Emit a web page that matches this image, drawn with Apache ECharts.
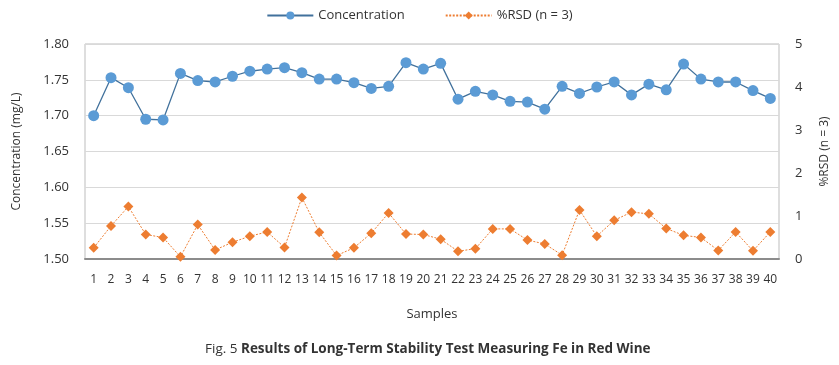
<!DOCTYPE html>
<html><head><meta charset="utf-8">
<script src="https://cdn.jsdelivr.net/npm/echarts@6/dist/echarts.min.js"></script>
<style>html,body{margin:0;padding:0;background:#fff}#c{width:839px;height:365px}</style>
</head><body><div id="c"></div>
<script>
const samples = Array.from({length:40},(_,i)=>String(i+1));
const concentration = [1.700,1.753,1.739,1.695,1.694,1.759,1.749,1.747,1.755,1.762,1.765,1.767,1.760,1.751,1.751,1.746,1.738,1.741,1.774,1.765,1.773,1.723,1.734,1.729,1.720,1.719,1.709,1.741,1.731,1.740,1.747,1.729,1.744,1.736,1.772,1.751,1.747,1.747,1.735,1.724];
const rsd = [0.26,0.77,1.22,0.57,0.50,0.05,0.80,0.21,0.39,0.53,0.63,0.27,1.43,0.62,0.08,0.26,0.60,1.07,0.58,0.57,0.46,0.18,0.24,0.70,0.70,0.44,0.35,0.09,1.14,0.53,0.90,1.09,1.05,0.71,0.55,0.50,0.20,0.63,0.19,0.63];
const FONT = '"Open Sans",sans-serif';
const chart = echarts.init(document.getElementById('c'));
chart.setOption({
  animation:false,
  textStyle:{fontFamily:FONT,color:'#333'},
  legend:{top:4,left:'center',itemWidth:46,itemHeight:10,itemGap:40,
    textStyle:{fontFamily:FONT,fontSize:13,color:'#333'},
    data:['Concentration','%RSD (n = 3)']},
  title:{text:'{a|Fig. 5 }{b|Results of Long-Term Stability Test Measuring Fe in Red Wine}',
    left:200,top:337,
    textStyle:{fontWeight:'normal',rich:{a:{fontFamily:FONT,fontSize:13.5,fontWeight:'normal',color:'#333'},b:{fontFamily:FONT,fontSize:13.5,fontWeight:'bold',color:'#333'}}}},
  grid:{left:85,right:58,top:44,bottom:106,show:true,borderColor:'#bdbdbd',borderWidth:1},
  xAxis:{type:'category',data:samples,boundaryGap:true,
    name:'Samples',nameLocation:'middle',nameGap:49,nameTextStyle:{fontFamily:FONT,fontSize:13,color:'#333'},
    axisLine:{lineStyle:{color:'#8c8c8c',width:2}},axisTick:{show:false},
    axisLabel:{interval:0,fontFamily:FONT,fontSize:12,color:'#333',margin:15}},
  yAxis:[
    {type:'value',min:1.5,max:1.8,interval:0.05,
     name:'Concentration (mg/L)',nameLocation:'middle',nameGap:62,nameTextStyle:{fontFamily:FONT,fontSize:12,color:'#333'},
     axisLine:{show:false},axisTick:{show:false},
     axisLabel:{formatter:v=>v.toFixed(2),fontFamily:FONT,fontSize:13,color:'#333',margin:16},
     splitLine:{lineStyle:{color:'#d9d9d9',width:1}}},
    {type:'value',min:0,max:5,interval:1,
     name:'%RSD (n = 3)',nameLocation:'middle',nameGap:40,nameRotate:90,nameTextStyle:{fontFamily:FONT,fontSize:12,color:'#333'},
     axisLine:{show:false},axisTick:{show:false},
     axisLabel:{fontFamily:FONT,fontSize:13,color:'#333',margin:16},
     splitLine:{show:false}}
  ],
  series:[
    {name:'Concentration',type:'line',yAxisIndex:0,data:concentration,
     symbol:'circle',symbolSize:11,
     lineStyle:{color:'#41719C',width:1.3},
     itemStyle:{color:'#5B9BD5',borderWidth:0}},
    {name:'%RSD (n = 3)',type:'line',yAxisIndex:1,data:rsd,
     symbol:'diamond',symbolSize:10,
     lineStyle:{color:'#ED7D31',width:1,type:[2,1.5]},
     itemStyle:{color:'#ED7D31',borderWidth:0}}
  ]
});
</script></body></html>
